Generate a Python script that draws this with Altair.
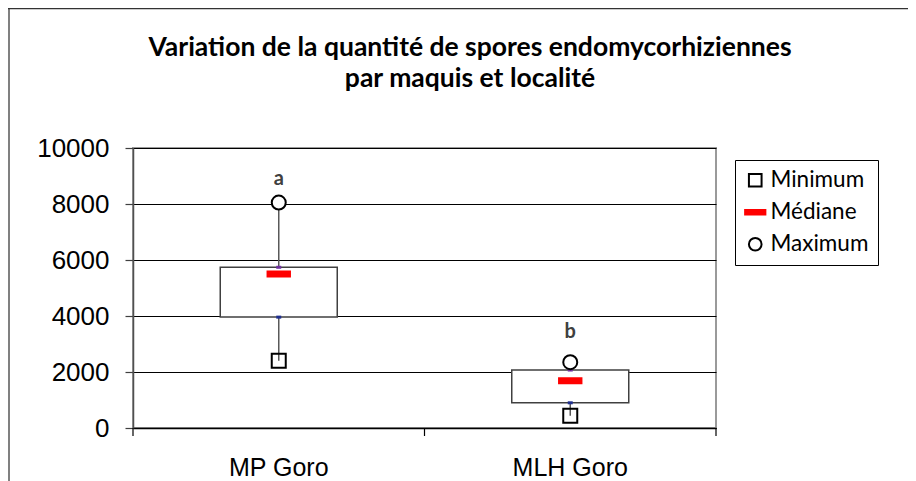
import altair as alt
import pandas as pd

categories = ["MP Goro", "MLH Goro"]
minimum = [2400, 440]
q1 = [3960, 900]
median = [5500, 1690]
q3 = [5740, 2070]
maximum = [8050, 2350]
letters = ["a", "b"]
letter_pos = [8880, 3420]
stats = ["Minimum", "Médiane", "Maximum"]
y_ticks = [0, 2000, 4000, 6000, 8000, 10000]
band_edges = [0, 1, 2]
title_text = "Variation de la quantité de spores endomycorhiziennes\npar maquis et localité"

box_df = pd.DataFrame({"cat": categories, "min": minimum, "q1": q1, "med": median,
                       "q3": q3, "max": maximum, "letter": letters, "lpos": letter_pos})
pts_df = pd.DataFrame({
    "cat": categories * 3,
    "stat": [s for s in stats for _ in categories],
    "value": minimum + median + maximum,
})
edge_df = pd.DataFrame({"edge": band_edges})
title_df = pd.DataFrame({"t": [title_text]})
one_df = pd.DataFrame({"k": [0]})

W, H = 583, 280
PL, PT = 125, 140
PR = 900 - PL - W
PB = 473 - PT - H

xscale = alt.Scale(domain=categories, paddingInner=0, paddingOuter=0)
xaxis = alt.Axis(title=None, labelAngle=0, ticks=False, domain=True, domainColor="black",
                 domainWidth=1.5, labelFont="Liberation Sans", labelFontSize=25,
                 labelPadding=27, labelColor="black", grid=False)
yscale = alt.Scale(domain=[0, 10000], nice=False)
yaxis = alt.Axis(values=y_ticks, format="d", title=None, grid=True, gridColor="black",
                 gridWidth=1, tickSize=8, tickColor="#404040", tickWidth=1.2,
                 domainColor="#505050", domainWidth=1.5, labelFont="Liberation Sans",
                 labelFontSize=26, labelPadding=16, labelColor="black")

X = alt.X("cat:N", scale=xscale, axis=xaxis)

base = alt.Chart(box_df)

wh_low = base.mark_rule(color="#595959", strokeWidth=1.5).encode(
    x=X, y=alt.Y("min:Q", scale=yscale, axis=yaxis), y2="q1:Q")
wh_high = base.mark_rule(color="#595959", strokeWidth=1.5).encode(
    x=X, y=alt.Y("q3:Q", scale=yscale, axis=yaxis), y2="max:Q")
box = base.mark_bar(size=117, fill="white", stroke="#404040", strokeWidth=1.5).encode(
    x=X, y=alt.Y("q1:Q", scale=yscale, axis=yaxis), y2="q3:Q")
mk_q3 = base.mark_tick(color="#7030a0", size=5, thickness=3, opacity=1).encode(
    x=X, y=alt.Y("q3:Q", scale=yscale, axis=yaxis))
mk_q1 = base.mark_tick(color="#1f2f8f", size=5, thickness=3, opacity=1).encode(
    x=X, y=alt.Y("q1:Q", scale=yscale, axis=yaxis))

dash = "M-1.6,-0.36H1.6V0.36H-1.6Z"
points = alt.Chart(pts_df).mark_point(filled=True, opacity=1, strokeWidth=2, size=196).encode(
    x=X,
    y=alt.Y("value:Q", scale=yscale, axis=yaxis),
    shape=alt.Shape("stat:N", scale=alt.Scale(domain=stats, range=["square", dash, "circle"]),
                    legend=alt.Legend(title=None)),
    stroke=alt.Stroke("stat:N", scale=alt.Scale(domain=stats, range=["black", "red", "black"]),
                      legend=alt.Legend(title=None)),
    fill=alt.Fill("stat:N", scale=alt.Scale(domain=stats, range=["transparent", "red", "white"]),
                  legend=alt.Legend(title=None)),
)

letters_layer = base.mark_text(font="Lato", fontSize=20, fontWeight="bold", color="#404040").encode(
    x=X, y=alt.Y("lpos:Q", scale=yscale, axis=yaxis), text="letter:N")

inner = alt.layer(wh_low, wh_high, box, mk_q3, mk_q1, points, letters_layer)

ticks_layer = alt.Chart(edge_df).mark_rule(color="black", strokeWidth=1.2).encode(
    x=alt.X("edge:Q", scale=alt.Scale(domain=[0, 2], nice=False), axis=None),
    y=alt.value(H), y2=alt.value(H + 8))

title_layer = alt.Chart(title_df).mark_text(
    font="Lato", fontSize=26.5, fontWeight="bold", color="black", lineBreak="\n",
    lineHeight=31, align="center", baseline="middle"
).encode(text="t:N", x=alt.value(470 - 133), y=alt.value(48 - 148))

border_left = alt.Chart(one_df).mark_rule(color="#808080", strokeWidth=2).encode(
    x=alt.value(-PL + 1), y=alt.value(-PT), y2=alt.value(H + PB))
border_top = alt.Chart(one_df).mark_rule(color="#333333", strokeWidth=1.5).encode(
    x=alt.value(-PL), x2=alt.value(W + PR), y=alt.value(-PT + 0.5))

chart = alt.layer(inner, ticks_layer, title_layer, border_left, border_top).resolve_scale(
    x="independent"
).properties(
    width=W, height=H,
    autosize=alt.AutoSizeParams(type="none"),
    padding={"left": PL, "top": PT, "right": PR, "bottom": PB},
    background="white",
).configure_view(
    stroke="#9a9a9a", strokeWidth=2
).configure_legend(
    orient="none", legendX=602, legendY=12, strokeColor="black", padding=9,
    labelFont="Lato", labelFontSize=22.5, labelColor="black", rowPadding=9,
    symbolStrokeWidth=2, symbolSize=160, fillColor="white", labelOffset=4
)

chart.save("out.html", embed_options={"renderer": "svg", "actions": False})
